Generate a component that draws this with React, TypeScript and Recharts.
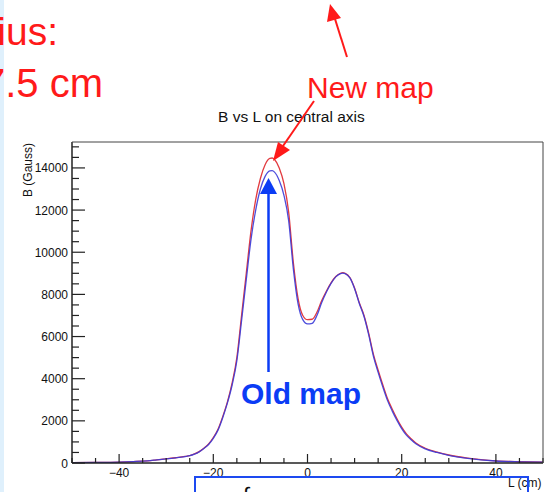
import React from 'react';
import { LineChart, Line, XAxis, YAxis } from 'recharts';

// L (cm) sample positions along the central axis
const L = [
  -50, -45, -40, -37, -34, -32, -30, -28, -26, -25, -24, -23, -22, -21, -20, -19, -18, -17, -16, -15,
  -14, -13, -12, -11, -10, -9, -8, -7.5, -7, -6, -5, -4, -3, -2, -1, 0, 1, 2, 3, 4, 5, 6, 7, 7.5, 8,
  9, 10, 11, 12, 13, 14, 15, 16, 17, 18, 19, 20, 21, 22, 23, 25, 27.5, 30, 34, 40, 45, 50,
];

// B (Gauss), new map (red)
const newMap = [
  15, 25, 45, 70, 105, 150, 200, 250, 310, 350, 430, 540, 700, 900, 1200, 1600, 2200, 2900, 3800, 5000,
  7000, 9000, 11000, 12500, 13500, 14150, 14450, 14470, 14400, 14000, 13250, 11900, 9500, 7800, 7000, 6800, 6820, 7150, 7700, 8150, 8550, 8850, 9000, 9030, 9000,
  8800, 8300, 7600, 7000, 6150, 5150, 4400, 3700, 3050, 2550, 2100, 1700, 1380, 1150, 950, 700, 520, 380, 230, 100, 60, 40,
];

// B (Gauss), old map (blue)
const oldMap = [
  15, 25, 45, 70, 105, 150, 195, 245, 305, 345, 420, 530, 690, 880, 1170, 1560, 2150, 2850, 3700, 4850,
  6750, 8700, 10600, 12000, 13000, 13600, 13860, 13870, 13800, 13400, 12700, 11500, 9200, 7550, 6800, 6600, 6630, 7000, 7600, 8100, 8520, 8830, 8990, 9010, 8990,
  8780, 8270, 7570, 6950, 6080, 5060, 4300, 3600, 2960, 2460, 2020, 1630, 1320, 1100, 910, 670, 500, 365, 220, 95, 58, 38,
];

const xTicks = [-50, -45, -40, -35, -30, -25, -20, -15, -10, -5, 0, 5, 10, 15, 20, 25, 30, 35, 40, 45, 50];
const xLabels = [-40, -20, 0, 20, 40];
const yTicks = [
  0, 500, 1000, 1500, 2000, 2500, 3000, 3500, 4000, 4500, 5000, 5500, 6000, 6500, 7000, 7500,
  8000, 8500, 9000, 9500, 10000, 10500, 11000, 11500, 12000, 12500, 13000, 13500, 14000, 14500, 15000,
];
const yLabels = [0, 2000, 4000, 6000, 8000, 10000, 12000, 14000];

const data = L.map((l, i) => ({ L: l, newMap: newMap[i], oldMap: oldMap[i] }));

const FONT = '"Liberation Sans", Arial, Helvetica, sans-serif';
const W = 545;
const H = 492;
const PLOT = { left: 72, top: 142, right: 543, bottom: 463 };

const fmt = (v: number) => (v < 0 ? '\u2212' + Math.abs(v) : String(v));

const renderYTick = (props: any) => {
  const { x, y, payload } = props;
  const major = yLabels.includes(payload.value);
  return (
    <g key={'y' + payload.value}>
      <line x1={x} x2={x + (major ? 13 : 7)} y1={y} y2={y} stroke="#222" strokeWidth={1.2} />
      {major && (
        <text x={x - 4} y={y} dy={4.5} textAnchor="end" fontSize={12} fontFamily={FONT} fill="#111">
          {payload.value}
        </text>
      )}
    </g>
  );
};

const renderXTick = (props: any) => {
  const { x, y, payload } = props;
  const major = xLabels.includes(payload.value);
  return (
    <g key={'x' + payload.value}>
      <line x1={x} x2={x} y1={y} y2={y - (major ? 9 : 5)} stroke="#222" strokeWidth={1.2} />
      {major && (
        <text x={x} y={y + 14} textAnchor="middle" fontSize={12} fontFamily={FONT} fill="#111">
          {fmt(payload.value)}
        </text>
      )}
    </g>
  );
};

export default function App() {
  const red = '#ff1a1a';
  const blue = '#0b3cf5';
  return (
    <div style={{ position: 'absolute', left: 0, top: 0, width: W, height: H, background: '#fff' }}>
      <LineChart
        width={W}
        height={H}
        data={data}
        margin={{ top: PLOT.top, left: 0, right: W - PLOT.right, bottom: 0 }}
      >
        <XAxis
          dataKey="L"
          type="number"
          domain={[-50, 50]}
          ticks={xTicks}
          interval={0}
          height={H - PLOT.bottom}
          tickSize={0}
          tickMargin={0}
          tickLine={false}
          tick={renderXTick}
          axisLine={{ stroke: '#222', strokeWidth: 1.5 }}
          allowDataOverflow
        />
        <YAxis
          type="number"
          domain={[0, 15230]}
          ticks={yTicks}
          interval={0}
          width={PLOT.left}
          tickSize={0}
          tickMargin={0}
          tickLine={false}
          tick={renderYTick}
          axisLine={{ stroke: '#222', strokeWidth: 1.5 }}
          allowDataOverflow
        />
        <Line
          dataKey="newMap"
          type="monotone"
          stroke="#e23a3f"
          strokeWidth={1.3}
          dot={false}
          isAnimationActive={false}
        />
        <Line
          dataKey="oldMap"
          type="monotone"
          stroke="#3a3ad8"
          strokeOpacity={0.9}
          strokeWidth={1.3}
          dot={false}
          isAnimationActive={false}
        />
      </LineChart>

      {/* frame, titles and slide annotations */}
      <svg
        width={W}
        height={H}
        style={{ position: 'absolute', left: 0, top: 0, pointerEvents: 'none' }}
        fontFamily={FONT}
      >
        <rect x={0} y={0} width={4} height={H} fill="#dff0fc" />
        <line x1={PLOT.left} x2={PLOT.right} y1={PLOT.top} y2={PLOT.top} stroke="#444" strokeWidth={1} />
        <line x1={PLOT.right} x2={PLOT.right} y1={PLOT.top} y2={PLOT.bottom} stroke="#444" strokeWidth={1} />

        <text x={218} y={122} fontSize={15.5} fill="#111">B vs L on central axis</text>
        <text x={32} y={143} transform="rotate(-90 32 143)" textAnchor="end" fontSize={12} fill="#111">
          B (Gauss)
        </text>
        <text x={508} y={487} fontSize={12} fill="#111">L (cm)</text>

        <text x={58} y={45} textAnchor="end" fontSize={39} fill={red}>ius:</text>
        <text x={103} y={97} textAnchor="end" fontSize={40} fill={red}>7.5 cm</text>
        <text x={307} y={98} fontSize={30} fill={red}>New map</text>

        {/* red arrows */}
        <line x1={347} y1={57} x2={335} y2={19} stroke={red} strokeWidth={2} />
        <polygon points="330,4 327,22 341,18" fill={red} />
        <line x1={314} y1={101} x2={283} y2={146} stroke={red} strokeWidth={2} />
        <polygon points="273,161 278,142 290,150" fill={red} />

        {/* blue arrow */}
        <line x1={268.5} y1={372} x2={268.5} y2={192} stroke={blue} strokeWidth={2.5} />
        <polygon points="268.5,178 260,194 277,194" fill={blue} />
        <text x={241} y={404} fontSize={30} fontWeight="bold" fill={blue}>Old map</text>

        {/* box below the plot */}
        <text x={243} y={503} fontSize={22} fill="#111">∫</text>
        <rect x={195} y={477} width={333} height={40} fill="none" stroke="#1d4af0" strokeWidth={2} />
      </svg>
    </div>
  );
}
